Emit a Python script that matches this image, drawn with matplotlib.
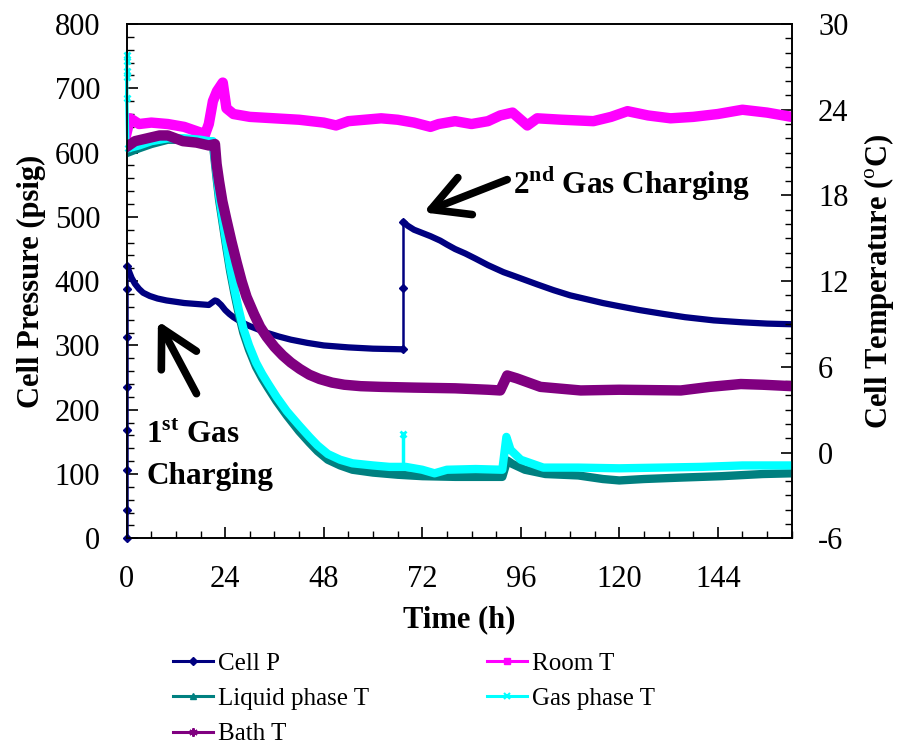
import matplotlib
matplotlib.use('Agg')
import matplotlib.pyplot as plt
from matplotlib.lines import Line2D
from matplotlib.ticker import MultipleLocator

plt.rcParams['font.family'] = 'Liberation Serif'
plt.rcParams['mathtext.fontset'] = 'custom'
plt.rcParams['mathtext.rm'] = 'Liberation Serif'
plt.rcParams['mathtext.bf'] = 'Liberation Serif:bold'
plt.rcParams['axes.unicode_minus'] = False

#### data
# cell pressure (psig) - gas charging ramps + decays
fill1_t = [0, 0, 0, 0, 0, 0, 0, 0]
fill1_p = [0, 44, 106, 168, 235, 313, 388, 424]
cellp1_t = [0, 0.3, 0.7, 1.2, 2, 3, 4, 5.6, 7.5, 9.7, 14, 18, 20, 21.5, 22, 23, 24, 25, 26, 28, 30,
            32, 34, 37, 40, 44, 48, 54, 60, 67.3]
cellp1 = [424, 420, 413, 405, 396, 388, 382, 377, 373, 370, 366, 364, 363, 370, 369, 363, 355, 349,
          344, 336, 330, 325, 320, 314, 309, 304, 300, 297, 295, 294]
fill2_t = [67.4, 67.4, 67.4]
fill2_p = [294, 390, 492]
cellp2_t = [67.4, 68.5, 70, 72, 74, 76.4, 78, 80, 82.5, 85, 88, 91.8, 94, 97, 100, 104, 108, 112,
            116, 120, 125, 130.8, 136, 143, 150, 156, 162]
cellp2 = [492, 486, 480, 475, 470, 463, 457, 450, 443, 435, 425, 414, 409, 402, 395, 386, 378, 372,
          366, 361, 355, 349, 344, 339, 336, 334, 333]

# room T (C)
room_t = [0, 0.8, 3, 6, 10, 14, 18, 19, 20, 21, 22, 23.4, 24.3, 26, 30, 36, 42, 48, 51, 54, 58, 62,
          66, 70, 74, 76, 80, 84, 88, 91, 94, 97.6, 100, 106, 113.7, 118, 122, 127, 132.5, 138, 144,
          150, 156, 162]
room_T = [22.4, 23.4, 23.0, 23.1, 23.0, 22.8, 22.4, 22.2, 23.0, 24.6, 25.3, 25.9, 24.1, 23.7, 23.5,
          23.4, 23.3, 23.1, 22.9, 23.2, 23.3, 23.4, 23.3, 23.1, 22.8, 23.0, 23.2, 23.0, 23.2, 23.6,
          23.8, 22.9, 23.4, 23.3, 23.2, 23.5, 23.9, 23.6, 23.4, 23.5, 23.7, 24.0, 23.8, 23.5]

# liquid phase T (C)
liq_t = [0.3, 3, 6, 10, 14, 18, 20, 21, 21.9, 22.5, 23.3, 24.3, 25.2, 26.2, 27.3, 28.4, 29.8, 31.5,
         33, 34.5, 36.5, 39, 42, 44.5, 46.5, 49, 52, 55, 60, 66, 72, 80, 91.5, 92.7, 94, 97, 102,
         110, 116, 120, 126, 135, 145, 155, 162]
liq_T = [21.0, 21.3, 21.6, 21.9, 21.9, 21.7, 21.6, 21.6, 19.2, 17.7, 16.2, 14.3, 12.7, 11.2, 9.7,
         8.4, 7.2, 6.0, 5.2, 4.5, 3.6, 2.6, 1.5, 0.7, 0.1, -0.5, -0.9, -1.2, -1.4, -1.55, -1.65,
         -1.7, -1.7, -0.55, -0.8, -1.2, -1.5, -1.6, -1.85, -1.95, -1.85, -1.75, -1.65, -1.5, -1.45]

# gas phase T (C)
gas_spike_t = [0, 0, 0, 0, 0, 0.3]
gas_spike_T = [27.8, 27.4, 26.7, 26.3, 24.8, 21.3]
gas_t = [0.3, 3, 6, 10, 14, 18, 20, 21, 21.9, 22.5, 23.3, 24.3, 25.2, 26.2, 27.3, 28.4, 29.8, 31.5,
         33, 34.5, 36.5, 39, 42, 44.5, 46.5, 49, 52, 55, 60, 64, 68, 72, 75, 78, 85, 91.5, 92.5,
         93.5, 96, 101.5, 110, 120, 130, 140, 150, 162]
gas_T = [21.3, 21.5, 21.8, 22.0, 22.0, 21.9, 21.8, 21.8, 19.5, 18.0, 16.5, 14.6, 13.0, 11.5, 10.0,
         8.7, 7.5, 6.3, 5.5, 4.8, 3.9, 2.9, 1.9, 1.1, 0.5, -0.1, -0.5, -0.75, -0.9, -1.0, -1.0,
         -1.2, -1.45, -1.2, -1.15, -1.2, 1.1, 0.2, -0.5, -1.05, -1.05, -1.1, -1.05, -1.0, -0.9, -0.9]
gas_blip_t = [67.4, 67.4]
gas_blip_T = [-1.0, 1.3]

# bath T (C)
bath_t = [0, 2, 5, 8, 10, 13.7, 17, 20, 21.5, 21.9, 22.5, 23.3, 24.3, 25.5, 26.8, 28, 29.2, 31,
          32.5, 34.1, 36, 38, 40, 42.2, 44.5, 47, 50, 53, 57, 62, 70, 80, 88, 91, 92.7, 95, 100.8,
          110.6, 120, 135, 142, 149.6, 155, 162]
bath_T = [21.4, 21.8, 22.0, 22.2, 22.2, 21.8, 21.7, 21.5, 21.6, 20.2, 19.0, 17.6, 16.3, 14.8, 13.3,
          12.0, 10.9, 9.7, 8.8, 8.1, 7.4, 6.8, 6.3, 5.85, 5.45, 5.15, 4.9, 4.75, 4.65, 4.6, 4.55,
          4.5, 4.4, 4.35, 5.4, 5.2, 4.6, 4.35, 4.4, 4.35, 4.6, 4.8, 4.75, 4.65]

c_p, c_room, c_liq, c_gas, c_bath = '#000080', '#FF00FF', '#008080', '#00FFFF', '#800080'

fig = plt.figure(figsize=(8.98, 7.46), dpi=100)
ax = fig.add_axes([0.1411, 0.2784, 0.7405, 0.6894])
ax2 = ax.twinx()

ax.plot(fill1_t, fill1_p, color=c_p, lw=1.8, marker='D', ms=4, clip_on=False, zorder=3)
ax.plot(cellp1_t, cellp1, color=c_p, lw=4.5, solid_capstyle='round', solid_joinstyle='round')
ax.plot(fill2_t, fill2_p, color=c_p, lw=1.8, marker='D', ms=4)
ax.plot(cellp2_t, cellp2, color=c_p, lw=4.5, solid_capstyle='round', solid_joinstyle='round')

ax2.plot(room_t, room_T, color=c_room, lw=7.5, solid_joinstyle='round')
ax2.plot(liq_t, liq_T, color=c_liq, lw=6, solid_joinstyle='round')
ax2.plot(gas_spike_t, gas_spike_T, color=c_gas, lw=2.5, marker='x', ms=5, mew=2, clip_on=False)
ax2.plot(gas_t, gas_T, color=c_gas, lw=6, solid_joinstyle='round')
ax2.plot(gas_blip_t, gas_blip_T, color=c_gas, lw=2.5, marker='x', ms=5, mew=2, markevery=[1])
ax2.plot(bath_t, bath_T, color=c_bath, lw=7.5, solid_joinstyle='round')

ax.set_xlim(0, 162)
ax.set_ylim(0, 800)
ax2.set_ylim(-6, 30)
ax.xaxis.set_major_locator(MultipleLocator(24))
ax.xaxis.set_minor_locator(MultipleLocator(6))
ax.yaxis.set_major_locator(MultipleLocator(100))
ax.yaxis.set_minor_locator(MultipleLocator(20))
ax2.yaxis.set_major_locator(MultipleLocator(6))
ax2.yaxis.set_minor_locator(MultipleLocator(1))

for a in (ax, ax2):
    a.tick_params(which='major', direction='in', length=8, width=1.2, labelsize=22, pad=19)
    a.tick_params(which='minor', direction='in', length=5, width=1)
    for s in a.spines.values():
        s.set_linewidth(1.2)

ax.set_xlabel('Time (h)', fontsize=22, fontweight='bold', labelpad=8)
ax.set_ylabel('Cell Pressure (psig)', fontsize=22, fontweight='bold', labelpad=6)
ax2.set_ylabel(r'Cell Temperature ($^{\mathrm{o}}$C)', fontsize=22, fontweight='bold', labelpad=10)

# annotations
arrow = dict(arrowstyle='->,head_length=1.2,head_width=0.65', lw=5.5, color='black',
             mutation_scale=22, shrinkA=0, shrinkB=0)
ax.annotate('', xy=(72.3, 507), xytext=(92.7, 558), arrowprops=arrow)
ax.text(94.2, 535, r'2$^{\mathbf{nd}}$ Gas Charging', fontsize=22.5, fontweight='bold', va='baseline')
ax.annotate('', xy=(7.6, 338), xytext=(17, 225), arrowprops=arrow)
ax.text(4.8, 148, r'1$^{\mathbf{st}}$ Gas', fontsize=22.5, fontweight='bold', va='baseline')
ax.text(4.8, 85, 'Charging', fontsize=22.5, fontweight='bold', va='baseline')

handles = [
    Line2D([], [], color=c_p, lw=2.2, marker='D', ms=4),
    Line2D([], [], color=c_liq, lw=2.2, marker='^', ms=4),
    Line2D([], [], color=c_bath, lw=2.2, marker=(6, 2, 0), ms=6, mew=1.5),
    Line2D([], [], color=c_room, lw=2.2, marker='s', ms=5),
    Line2D([], [], color=c_gas, lw=2.2, marker='x', ms=4, mew=1.5),
]
labels = ['Cell P', 'Liquid phase T', 'Bath T', 'Room T', 'Gas phase T']
fig.legend(handles, labels, loc='upper left', bbox_to_anchor=(173 / 898, 1 - 652 / 746), ncol=2,
           frameon=False, fontsize=18, handlelength=1.6, handletextpad=0.2, columnspacing=4.7,
           labelspacing=0.52, borderpad=0, borderaxespad=0)

fig.savefig('out.png', dpi=100)
